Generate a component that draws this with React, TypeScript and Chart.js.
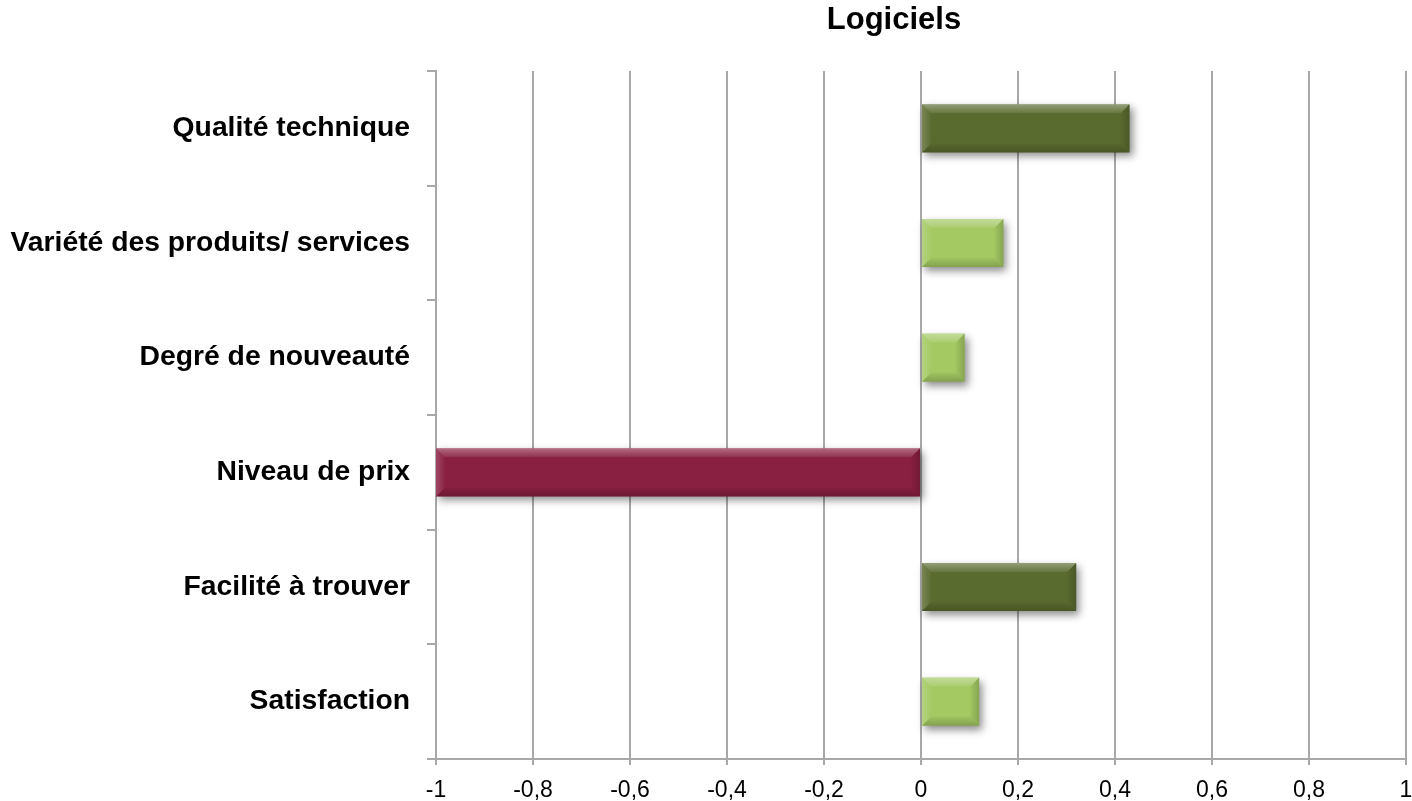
import React, { useEffect, useRef } from "react";
import { Chart, registerables } from "chart.js";

Chart.register(...registerables);

const title = "Logiciels";
const categories = [
  "Qualité technique",
  "Variété des produits/ services",
  "Degré de nouveauté",
  "Niveau de prix",
  "Facilité à trouver",
  "Satisfaction",
];
const values = [0.43, 0.17, 0.09, -1.0, 0.32, 0.12];
const barColors = ["#5a6b2f", "#a4c963", "#a4c963", "#891f41", "#5a6b2f", "#a4c963"];
const xTickLabels = ["-1", "-0,8", "-0,6", "-0,4", "-0,2", "0", "0,2", "0,4", "0,6", "0,8", "1"];

const FONT = "'Liberation Sans', Arial, Helvetica, sans-serif";
const GRID = "#a8a8a8";

const effectsPlugin = {
  id: "bevelShadow",
  beforeDatasetsDraw(chart: any) {
    const ctx = chart.ctx;
    ctx.save();
    ctx.shadowColor = "rgba(0,0,0,0.45)";
    ctx.shadowBlur = 8;
    ctx.shadowOffsetX = 3;
    ctx.shadowOffsetY = 4;
  },
  afterDatasetsDraw(chart: any) {
    const ctx = chart.ctx;
    ctx.restore();
    const meta = chart.getDatasetMeta(0);
    meta.data.forEach((el: any) => {
      const p = el.getProps(["x", "y", "base", "height"], true);
      const l = Math.min(p.x, p.base);
      const r = Math.max(p.x, p.base);
      const t = p.y - p.height / 2;
      const bt = p.y + p.height / 2;
      const w = r - l;
      const b = Math.min(9, w / 3, p.height / 3);
      const poly = (pts: number[][], fill: any) => {
        ctx.beginPath();
        ctx.moveTo(pts[0][0], pts[0][1]);
        for (let i = 1; i < pts.length; i++) ctx.lineTo(pts[i][0], pts[i][1]);
        ctx.closePath();
        ctx.fillStyle = fill;
        ctx.fill();
      };
      ctx.save();
      const gTop = ctx.createLinearGradient(0, t, 0, t + b);
      gTop.addColorStop(0, "rgba(255,255,255,0.35)");
      gTop.addColorStop(1, "rgba(255,255,255,0.08)");
      poly([[l, t], [r, t], [r - b, t + b], [l + b, t + b]], gTop);
      const gLeft = ctx.createLinearGradient(l, 0, l + b, 0);
      gLeft.addColorStop(0, "rgba(255,255,255,0.18)");
      gLeft.addColorStop(1, "rgba(255,255,255,0.02)");
      poly([[l, t], [l + b, t + b], [l + b, bt - b], [l, bt]], gLeft);
      const gRight = ctx.createLinearGradient(r - b, 0, r, 0);
      gRight.addColorStop(0, "rgba(0,0,0,0.02)");
      gRight.addColorStop(1, "rgba(0,0,0,0.18)");
      poly([[r, t], [r, bt], [r - b, bt - b], [r - b, t + b]], gRight);
      const gBot = ctx.createLinearGradient(0, bt - b, 0, bt);
      gBot.addColorStop(0, "rgba(0,0,0,0.03)");
      gBot.addColorStop(1, "rgba(0,0,0,0.2)");
      poly([[l, bt], [r, bt], [r - b, bt - b], [l + b, bt - b]], gBot);
      ctx.restore();
    });
  },
  afterDraw(chart: any) {
    const ctx = chart.ctx;
    ctx.save();
    ctx.font = `bold 31px ${FONT}`;
    ctx.fillStyle = "#000";
    ctx.textAlign = "center";
    ctx.textBaseline = "alphabetic";
    ctx.fillText(title, 894, 29);
    ctx.restore();
  },
};

export default function App() {
  const ref = useRef<HTMLCanvasElement | null>(null);
  useEffect(() => {
    if (!ref.current) return;
    const chart = new Chart(ref.current, {
      type: "bar",
      data: {
        labels: categories,
        datasets: [
          {
            data: values,
            backgroundColor: barColors,
            borderWidth: 0,
            barPercentage: 0.42,
            categoryPercentage: 1,
          },
        ],
      },
      plugins: [effectsPlugin],
      options: {
        indexAxis: "y",
        animation: false,
        responsive: false,
        layout: { padding: { top: 71, left: 0, right: 6, bottom: 0 } },
        plugins: {
          legend: { display: false },
          title: { display: false },
          tooltip: { enabled: false },
        },
        scales: {
          x: {
            min: -1,
            max: 1,
            ticks: {
              stepSize: 0.2,
              color: "#000",
              font: { family: FONT, size: 23 },
              padding: 12,
              maxRotation: 0,
              autoSkip: false,
              callback: (_v: any, i: number) => xTickLabels[i],
            },
            grid: { color: GRID, lineWidth: 2, tickLength: 6, drawOnChartArea: true },
            border: { color: GRID, width: 2 },
            afterFit: (s: any) => {
              s.height = 42;
              s.paddingRight = 0;
              s.paddingLeft = 0;
            },
          },
          y: {
            ticks: {
              color: "#000",
              font: { family: FONT, size: 28.3, weight: "bold" },
              padding: 17,
              autoSkip: false,
            },
            grid: { color: GRID, lineWidth: 2, tickLength: 9, drawOnChartArea: false, offset: true },
            border: { color: GRID, width: 2 },
            afterFit: (s: any) => {
              s.width = 436;
            },
          },
        },
      },
    });
    return () => chart.destroy();
  }, []);
  return (
    <div style={{ position: "absolute", left: 0, top: 0, width: 1412, height: 801, background: "#fff" }}>
      <canvas ref={ref} width={1412} height={801} style={{ display: "block" }} />
    </div>
  );
}
